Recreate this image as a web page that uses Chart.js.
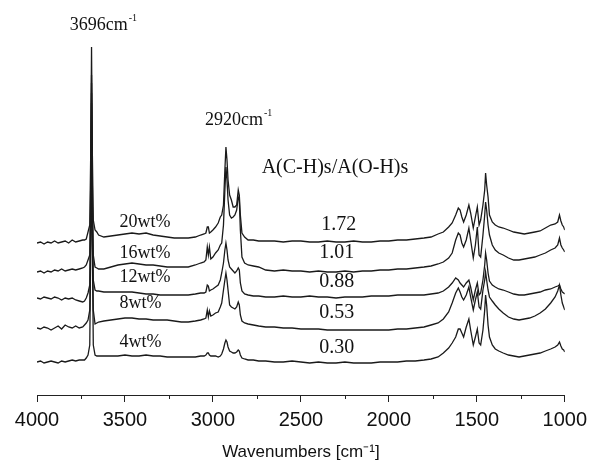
<!DOCTYPE html>
<html>
<head>
<meta charset="utf-8">
<script src="https://cdn.jsdelivr.net/npm/chart.js@4.4.1/dist/chart.umd.min.js"></script>
<style>
  html, body { margin: 0; padding: 0; background: #fff; }
  #wrap { width: 593px; height: 465px; position: relative; }
</style>
</head>
<body>
<div id="wrap"><canvas id="irChart"></canvas></div>
<script>
  /* Data: shared wavenumber grid (cm-1) and one absorbance trace per loading (offset, a.u.) */
  var wavenumbers = [
    4000, 3980, 3960, 3940, 3920, 3900, 3880, 3860, 3840, 3820, 3800, 3780, 3760, 3740,
    3730, 3720, 3710, 3700, 3694, 3690, 3686, 3680, 3670, 3660, 3650,
    3620, 3580, 3540, 3500, 3460, 3420, 3380, 3340, 3300, 3260, 3220, 3180, 3140, 3100, 3070, 3050,
    3040, 3032, 3026, 3020, 3012, 3000, 2985, 2970, 2958, 2950, 2940, 2932, 2926, 2920, 2914, 2905,
    2895, 2885, 2875, 2865, 2856, 2850, 2844, 2835, 2820, 2800, 2770, 2740,
    2700, 2650, 2600, 2550, 2500, 2450, 2400, 2350, 2300, 2250, 2200, 2150, 2100, 2050, 2000, 1950, 1900, 1850,
    1800, 1760, 1720, 1690, 1660, 1640, 1620, 1605, 1595, 1585, 1575, 1560, 1545, 1535, 1520, 1508, 1497,
    1487, 1478, 1465, 1455, 1450, 1444, 1436, 1428, 1412, 1395, 1375, 1350, 1320, 1290, 1260, 1230, 1200,
    1170, 1140, 1110, 1080, 1055, 1040, 1030, 1022, 1014, 1006, 1000
  ];

  var wt20 = [
    152, 153, 151, 153, 152, 154, 152, 153, 154, 152, 155, 153, 154, 155,
    155, 156, 163, 170, 250, 348, 250, 175, 165, 163, 160,
    158, 159, 160, 161, 162, 161, 162, 160, 159, 158, 157, 157, 157, 158, 160, 161,
    162, 168, 168, 162, 163, 165, 168, 172, 178, 180, 190, 225, 248, 235, 215, 200,
    195, 188, 188, 190, 205, 200, 180, 162, 158, 155, 155, 154,
    154, 154, 153, 154, 154, 153, 153, 154, 153, 153, 154, 153, 153, 154, 154, 155, 155, 156,
    157, 158, 161, 163, 168, 172, 180, 187, 185, 178, 173, 180, 190, 182, 167, 178, 188,
    170, 175, 190, 205, 222, 210, 198, 180, 173, 170, 168, 167, 165, 163, 162, 161, 162,
    163, 164, 167, 170, 171, 173, 180, 174, 170, 168, 165
  ];

  var wt16 = [
    123, 124, 122, 124, 123, 125, 124, 126, 124, 125, 126, 125, 126, 127,
    128, 130, 135, 140, 220, 320, 220, 140, 128, 127, 126,
    126, 128, 130, 131, 132, 131, 130, 130, 129, 128, 128, 128, 128, 130, 132, 133,
    135, 148, 140, 148, 136, 138, 142, 145, 150, 152, 170, 205, 228, 215, 195, 180,
    177, 178, 180, 185, 198, 195, 165, 138, 132, 130, 129, 128,
    125, 124, 125, 124, 124, 123, 124, 123, 123, 124, 123, 124, 124, 125, 125, 126, 126, 127,
    128, 129, 131, 133, 137, 142, 155, 162, 160, 152, 148, 155, 167, 155, 137, 150, 168,
    140, 138, 160, 180, 193, 185, 170, 160, 150, 145, 142, 140, 137, 135, 135, 136, 137,
    138, 140, 142, 145, 147, 150, 157, 150, 147, 145, 143
  ];

  var wt12 = [
    97, 96, 98, 97, 96, 98, 97, 95, 97, 96, 97, 95, 94, 93,
    94, 97, 102, 110, 200, 312, 200, 115, 105, 104, 104,
    103, 103, 103, 103, 103, 102, 101, 101, 100, 100, 100, 100, 100, 101, 102, 102,
    103, 110, 109, 104, 105, 106, 108, 110, 115, 122, 132, 145, 152, 145, 135, 128,
    126, 124, 122, 124, 127, 125, 112, 104, 101, 100, 99, 99,
    98, 98, 99, 98, 98, 99, 98, 98, 97, 98, 98, 98, 99, 99, 99, 100, 100, 100,
    100, 101, 102, 104, 108, 112, 117, 115, 112, 110, 108, 112, 115, 108, 95, 105, 112,
    100, 102, 115, 130, 142, 135, 122, 114, 110, 108, 106, 105, 103, 101, 100, 100, 101,
    102, 103, 105, 106, 108, 109, 110, 106, 103, 102, 101
  ];

  var wt8 = [
    67, 66, 68, 67, 65, 67, 69, 66, 70, 68, 67, 69, 67, 68,
    70, 72, 75, 85, 180, 302, 180, 85, 71, 72, 73,
    74, 75, 76, 77, 77, 76, 76, 75, 75, 75, 74, 73, 73, 74, 75, 76,
    77, 85, 78, 84, 79, 80, 82, 83, 88, 92, 105, 115, 122, 115, 105, 90,
    88, 87, 86, 88, 93, 90, 80, 74, 72, 71, 70, 69,
    68, 68, 67, 67, 66, 66, 66, 65, 65, 65, 65, 65, 65, 65, 65, 66, 66, 67,
    68, 70, 72, 76, 83, 92, 102, 107, 103, 98, 95, 100, 108, 98, 85, 95, 103,
    88, 86, 105, 115, 123, 115, 105, 98, 94, 90, 86, 82, 78, 76, 75, 76, 77,
    79, 82, 86, 92, 98, 104, 110, 100, 92, 88, 85
  ];

  var wt4 = [
    33, 34, 32, 33, 34, 33, 32, 34, 33, 34, 35, 34, 35, 35,
    35, 37, 40, 50, 160, 292, 160, 50, 40, 39, 39,
    39, 39, 39, 40, 39, 39, 40, 39, 39, 38, 38, 38, 38, 38, 39, 39,
    40, 42, 42, 40, 39, 39, 39, 38, 39, 41, 46, 52, 55, 53, 48, 44,
    43, 42, 42, 43, 45, 44, 40, 37, 36, 35, 35, 34,
    34, 33, 33, 34, 33, 32, 33, 32, 32, 33, 32, 32, 32, 33, 33, 33, 34, 34,
    35, 36, 38, 42, 47, 52, 58, 66, 66, 62, 58, 68, 76, 65, 50, 58, 66,
    52, 50, 65, 85, 100, 90, 70, 58, 50, 46, 44, 42, 40, 39, 38, 39, 40,
    41, 42, 44, 46, 48, 50, 53, 49, 46, 45, 43
  ];

  var loadings = ['20wt%', '16wt%', '12wt%', '8wt%', '4wt%'];
  var ratios = ['1.72', '1.01', '0.88', '0.53', '0.30'];
  var tickValues = [4000, 3500, 3000, 2500, 2000, 1500, 1000];
  var minorTicks = [3750, 3250, 2750, 2250, 1750, 1250];

  /* Text placed in data coordinates (wavenumber, offset) */
  var labelY = [168, 137, 113, 87, 48];
  var ratioY = [165, 137, 108, 77, 42];
  var notes = [
    { text: '3696cm', sup: '-1', wn: 3814, y: 365, size: 18 },
    { text: '2920cm', sup: '-1', wn: 3045, y: 270, size: 18 },
    { text: 'A(C-H)s/A(O-H)s', wn: 2723, y: 222, size: 20 }
  ];
  loadings.forEach(function (t, i) { notes.push({ text: t, wn: 3531, y: labelY[i], size: 18 }); });
  ratios.forEach(function (t, i) { notes.push({ text: t, wn: i === 0 ? 2384 : 2395, y: ratioY[i], size: 20 }); });

  function toPoints(arr) {
    return wavenumbers.map(function (w, i) { return { x: w, y: arr[i] }; });
  }

  var traces = [wt20, wt16, wt12, wt8, wt4];

  var ctx = document.getElementById('irChart').getContext('2d');
  new Chart(ctx, {
    type: 'line',
    data: {
      datasets: traces.map(function (arr, i) {
        return {
          label: loadings[i],
          data: toPoints(arr),
          borderColor: '#1a1a1a',
          borderWidth: 1.3,
          pointRadius: 0,
          tension: 0,
          fill: false
        };
      })
    },
    options: {
      responsive: true,
      maintainAspectRatio: false,
      animation: false,
      layout: { padding: { left: 37, right: 22, top: 0, bottom: 0 } },
      plugins: {
        legend: { display: false },
        tooltip: { enabled: false }
      },
      scales: {
        x: {
          type: 'linear',
          reverse: true,
          min: 1000,
          max: 4000,
          afterBuildTicks: function (scale) {
            scale.ticks = tickValues.map(function (v) { return { value: v }; });
          },
          afterFit: function (scale) { scale.height = 70; },
          ticks: {
            color: '#111',
            padding: 6,
            maxRotation: 0,
            callback: function (v) { return String(v); },
            font: { family: '"Liberation Sans", Arial, sans-serif', size: 20 }
          },
          grid: { drawOnChartArea: false, drawTicks: true, tickLength: 7, color: '#222', tickWidth: 1 },
          border: { display: true, color: '#222', width: 1 },
          title: {
            display: true,
            text: 'Wavenumbers [cm\u207B\u00B9]',
            color: '#111',
            padding: { top: 0, bottom: 2 },
            font: { family: '"Liberation Sans", Arial, sans-serif', size: 17 }
          }
        },
        y: { display: false, min: 0, max: 395 }
      }
    },
    plugins: [{
      id: 'extras',
      afterDraw: function (chart) {
        var c = chart.ctx;
        var xs = chart.scales.x, ys = chart.scales.y;
        var bottom = chart.chartArea.bottom;
        c.save();
        /* minor ticks */
        c.strokeStyle = '#222';
        c.lineWidth = 1;
        minorTicks.forEach(function (v) {
          var px = Math.round(xs.getPixelForValue(v)) + 0.5;
          c.beginPath();
          c.moveTo(px, bottom);
          c.lineTo(px, bottom + 4);
          c.stroke();
        });
        /* annotations */
        c.fillStyle = '#111';
        c.textBaseline = 'alphabetic';
        c.textAlign = 'left';
        notes.forEach(function (n) {
          var px = xs.getPixelForValue(n.wn);
          var py = ys.getPixelForValue(n.y);
          c.font = n.size + 'px "Liberation Serif", "Times New Roman", serif';
          c.fillText(n.text, px, py);
          if (n.sup) {
            var w = c.measureText(n.text).width;
            c.font = '10px "Liberation Serif", "Times New Roman", serif';
            c.fillText(n.sup, px + w + 1, py - 9);
          }
        });
        c.restore();
      }
    }]
  });
</script>
</body>
</html>
